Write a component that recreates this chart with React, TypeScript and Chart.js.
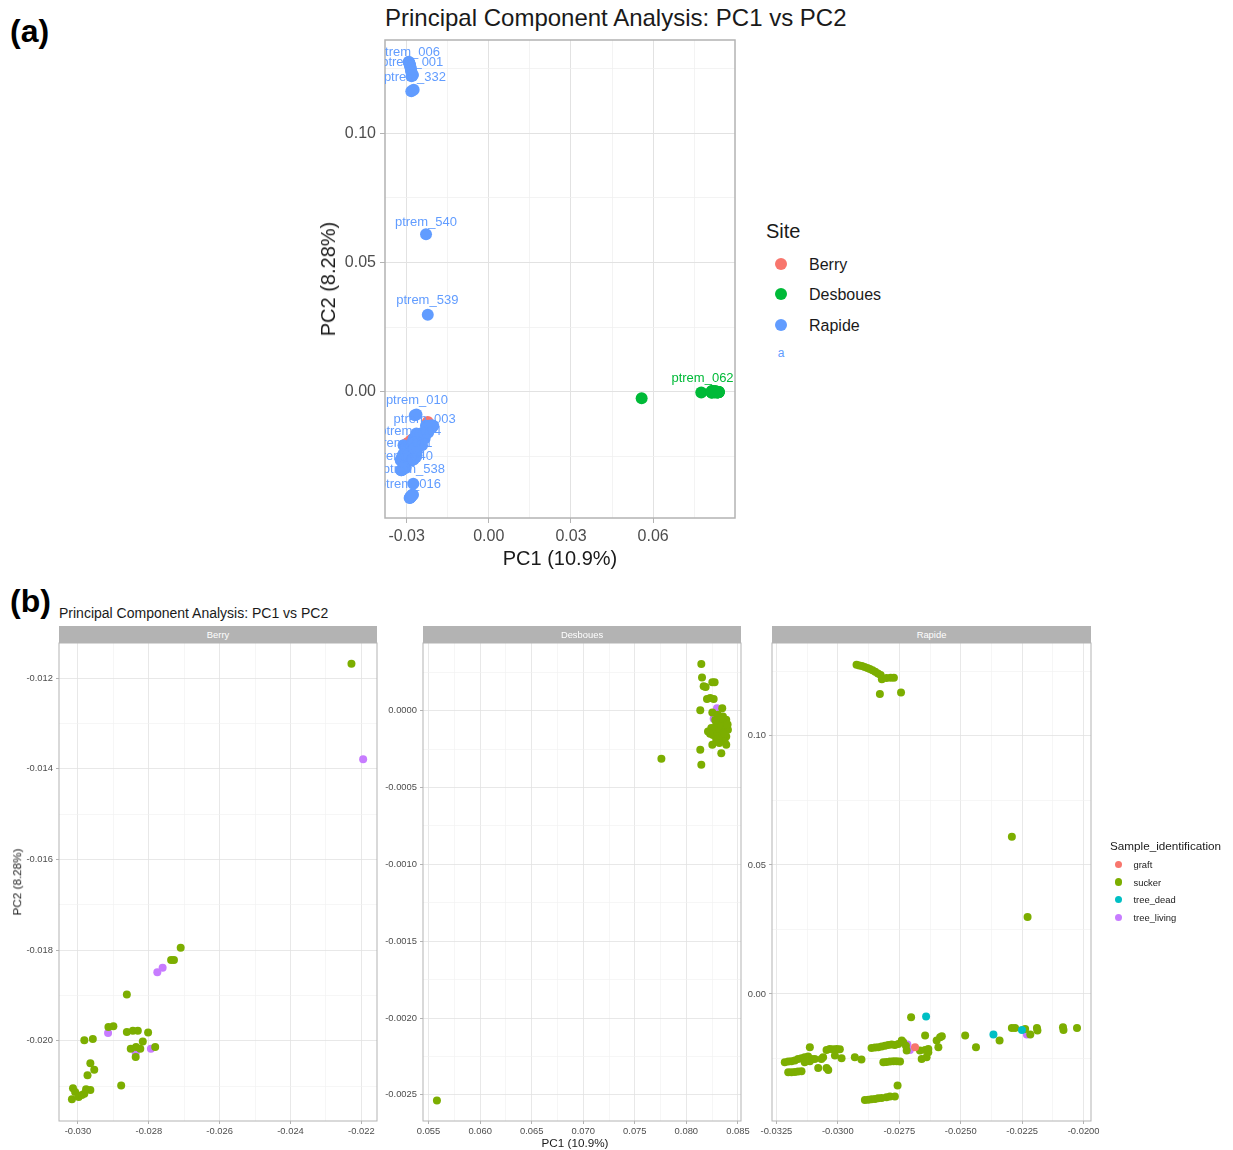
import React, { useEffect, useRef } from 'react';
import { Chart, registerables } from 'chart.js';

Chart.register(...registerables);

type Pt = [number, number];

const FONT = '"Liberation Sans", Arial, Helvetica, sans-serif';

// ---------------- categories ----------------
const SITES = ['Berry', 'Desboues', 'Rapide'];
const SITE_COLORS = ['#F8766D', '#00BA38', '#619CFF'];
const SAMPLE_TYPES = ['graft', 'sucker', 'tree_dead', 'tree_living'];
const SAMPLE_COLORS = ['#F8766D', '#7CAE00', '#00BFC4', '#C77CFF'];

// ---------------- series: [PC1, PC2] ----------------
const berrySucker: Pt[] = [
  [-0.02228, -0.01168], [-0.0271, -0.01795], [-0.02737, -0.01822], [-0.02729, -0.01822],
  [-0.02862, -0.01898], [-0.02914, -0.0197], [-0.029, -0.01968], [-0.02862, -0.01981],
  [-0.02845, -0.01978], [-0.02831, -0.01978], [-0.02802, -0.01982], [-0.02982, -0.01999],
  [-0.02958, -0.01996], [-0.02851, -0.02018], [-0.02836, -0.02014], [-0.02824, -0.02018],
  [-0.02817, -0.02002], [-0.02782, -0.02014], [-0.02837, -0.02036], [-0.02965, -0.0205],
  [-0.02954, -0.02064], [-0.02973, -0.02076], [-0.02878, -0.02099], [-0.03014, -0.02105],
  [-0.03008, -0.02113], [-0.03017, -0.02129], [-0.02998, -0.02124], [-0.02989, -0.0212],
  [-0.02977, -0.02107], [-0.02965, -0.02109], [-0.02982, -0.02117],
];
const berryTreeLiving: Pt[] = [
  [-0.02195, -0.01379], [-0.02776, -0.01849], [-0.02761, -0.01839], [-0.02915, -0.01983],
  [-0.02794, -0.02018], [-0.02837, -0.02027],
];

const desbouesSucker: Pt[] = [
  [0.05581, -0.002537], [0.07758, -0.000313], [0.08145, 0.000304], [0.08152, 0.000217],
  [0.08168, 0.000159], [0.08187, 0.000154], [0.08252, 0.000185], [0.08274, 0.000185],
  [0.082, 0.000076], [0.08232, 0.000083], [0.08265, 0.000076], [0.08135, 0.000004],
  [0.08348, 0.000017], [0.08252, -0.000011], [0.08306, -0.000026], [0.08355, -0.000037],
  [0.08387, -0.000059], [0.08323, -0.00007], [0.08371, -0.00008], [0.0829, -0.000091],
  [0.08339, -0.000102], [0.08387, -0.000113], [0.08242, -0.000113], [0.08274, -0.000124],
  [0.08316, -0.000135], [0.08361, -0.000141], [0.08403, -0.000124], [0.0821, -0.000135],
  [0.08258, -0.000157], [0.08306, -0.000167], [0.08348, -0.000172], [0.08387, -0.000167],
  [0.0829, -0.000189], [0.08371, -0.0002], [0.08387, -0.000222], [0.08252, -0.000222],
  [0.08339, -0.000276], [0.08135, -0.000254], [0.08145, -0.000352], [0.0833, -0.00005],
  [0.0837, -0.00015], [0.0828, -0.00006], [0.084, -0.00009], [0.0832, -0.00021],
  [0.0823, -0.00015],
];
const desbouesTreeLiving: Pt[] = [[0.08297, 0.000017], [0.08265, -0.000052]];

const rapideGraft: Pt[] = [[-0.02686, -0.02067]];
const rapideSucker: Pt[] = [
  [-0.02924, 0.1276], [-0.02913, 0.1273], [-0.02902, 0.1271], [-0.02891, 0.1267],
  [-0.0288, 0.1263], [-0.0287, 0.1259], [-0.02859, 0.1254], [-0.02848, 0.1249],
  [-0.02837, 0.1242], [-0.02826, 0.1236], [-0.02821, 0.122], [-0.02802, 0.1224],
  [-0.02785, 0.1225], [-0.02772, 0.1225], [-0.02829, 0.1162], [-0.02743, 0.1168],
  [-0.02292, 0.0609], [-0.02228, 0.0298],
  [-0.03216, -0.02649], [-0.03202, -0.02623], [-0.03189, -0.0261], [-0.03175, -0.02584],
  [-0.03162, -0.02519], [-0.03148, -0.02494], [-0.03135, -0.02455], [-0.03121, -0.02429],
  [-0.03107, -0.02519], [-0.03094, -0.02519], [-0.03135, -0.02649], [-0.03114, -0.0261],
  [-0.03202, -0.03036], [-0.03189, -0.03036], [-0.03175, -0.03023], [-0.03162, -0.0301],
  [-0.03148, -0.02997], [-0.03114, -0.02067], [-0.0308, -0.02868], [-0.03039, -0.02946],
  [-0.03046, -0.02868], [-0.03067, -0.02519], [-0.0306, -0.02455], [-0.03046, -0.02171],
  [-0.03033, -0.02132], [-0.03019, -0.02145], [-0.03005, -0.02132], [-0.02992, -0.02145],
  [-0.03012, -0.0239], [-0.02985, -0.02494], [-0.02931, -0.02455], [-0.02904, -0.02545],
  [-0.02863, -0.02093], [-0.02849, -0.0208], [-0.02836, -0.02067], [-0.02822, -0.02041],
  [-0.02808, -0.02003], [-0.02795, -0.01977], [-0.02781, -0.01964], [-0.02768, -0.01977],
  [-0.02754, -0.01938], [-0.0274, -0.01809], [-0.02734, -0.01873],
  [-0.02815, -0.02649], [-0.02802, -0.02636], [-0.02788, -0.02623], [-0.02774, -0.0261],
  [-0.02761, -0.0261], [-0.02747, -0.02623], [-0.0272, -0.02196], [-0.02723, -0.02003],
  [-0.02702, -0.00904], [-0.02645, -0.01615], [-0.02645, -0.02171], [-0.02666, -0.02196],
  [-0.02632, -0.02132], [-0.02659, -0.02519], [-0.02639, -0.02455], [-0.02632, -0.02261],
  [-0.02598, -0.01809], [-0.02584, -0.0168], [-0.02577, -0.01641], [-0.02591, -0.02067],
  [-0.02482, -0.01615], [-0.02438, -0.02067],
  [-0.0289, -0.04109], [-0.02876, -0.04096], [-0.02863, -0.04083], [-0.02849, -0.0407],
  [-0.02836, -0.04044], [-0.02822, -0.04031], [-0.02802, -0.04005], [-0.02788, -0.03979],
  [-0.02768, -0.03979], [-0.02757, -0.03553],
  [-0.02342, -0.01809], [-0.02292, -0.01318], [-0.02279, -0.01318], [-0.02238, -0.01357],
  [-0.02217, -0.01576], [-0.0219, -0.01318], [-0.02188, -0.01421], [-0.02084, -0.01292],
  [-0.02082, -0.01395], [-0.02027, -0.01318],
];
const rapideTreeDead: Pt[] = [[-0.02641, -0.00879], [-0.02367, -0.01576], [-0.02251, -0.01395]];
const rapideTreeLiving: Pt[] = [[-0.02717, -0.01964], [-0.02707, -0.02171], [-0.02231, -0.01576]];

// per site (SITES order) -> per sample type (SAMPLE_TYPES order)
const BY_SITE: Pt[][][] = [
  [[], berrySucker, [], berryTreeLiving],
  [[], desbouesSucker, [], desbouesTreeLiving],
  [rapideGraft, rapideSucker, rapideTreeDead, rapideTreeLiving],
];

// ---------------- repelled point labels (panel a) ----------------
const LABEL_TEXT = [
  'ptrem_006', 'ptrem_001', 'ptrem_332', 'ptrem_540', 'ptrem_539', 'ptrem_010', 'ptrem_003',
  'ptrem_004', 'ptrem_011', 'ptrem_040', 'ptrem_538', 'ptrem_016', 'ptrem_062',
];
const LABEL_PC1 = [
  -0.02916, -0.02795, -0.02696, -0.02294, -0.02246, -0.02623, -0.02341,
  -0.02868, -0.03172, -0.03172, -0.02733, -0.02879, 0.07804,
];
const LABEL_PC2 = [
  0.13104, 0.12718, 0.12139, 0.06564, 0.03541, -0.00347, -0.01066,
  -0.01544, -0.01992, -0.02483, -0.02996, -0.03575, 0.00517,
];
const LABEL_SITE = [2, 2, 2, 2, 2, 2, 2, 2, 2, 2, 2, 2, 1];

// ---------------- axes: tick values and labels ----------------
const A_X_TICKS = [-0.03, 0, 0.03, 0.06];
const A_X_LABELS = ['-0.03', '0.00', '0.03', '0.06'];
const A_Y_TICKS = [0, 0.05, 0.1];
const A_Y_LABELS = ['0.00', '0.05', '0.10'];

const BERRY_X_TICKS = [-0.03, -0.028, -0.026, -0.024, -0.022];
const BERRY_X_LABELS = ['-0.030', '-0.028', '-0.026', '-0.024', '-0.022'];
const BERRY_Y_TICKS = [-0.02, -0.018, -0.016, -0.014, -0.012];
const BERRY_Y_LABELS = ['-0.020', '-0.018', '-0.016', '-0.014', '-0.012'];

const DESB_X_TICKS = [0.055, 0.06, 0.065, 0.07, 0.075, 0.08, 0.085];
const DESB_X_LABELS = ['0.055', '0.060', '0.065', '0.070', '0.075', '0.080', '0.085'];
const DESB_Y_TICKS = [-0.0025, -0.002, -0.0015, -0.001, -0.0005, 0];
const DESB_Y_LABELS = ['-0.0025', '-0.0020', '-0.0015', '-0.0010', '-0.0005', '0.0000'];

const RAP_X_TICKS = [-0.0325, -0.03, -0.0275, -0.025, -0.0225, -0.02];
const RAP_X_LABELS = ['-0.0325', '-0.0300', '-0.0275', '-0.0250', '-0.0225', '-0.0200'];
const RAP_Y_TICKS = [0, 0.05, 0.1];
const RAP_Y_LABELS = ['0.00', '0.05', '0.10'];

// axis limits
const A_X_RANGE: Pt = [-0.0379, 0.0899];
const A_Y_RANGE: Pt = [-0.0488, 0.136];
const BERRY_X_RANGE: Pt = [-0.030535, -0.021559];
const BERRY_Y_RANGE: Pt = [-0.021772, -0.011224];
const DESB_X_RANGE: Pt = [0.05446, 0.0853];
const DESB_Y_RANGE: Pt = [-0.00267, 0.000441];
const RAP_X_RANGE: Pt = [-0.03268, -0.0197];
const RAP_Y_RANGE: Pt = [-0.04924, 0.136];

// ---------------------------------------------------------------
const PAD = 24;

interface AxisSpec { range: Pt; ticks: number[]; labels: string[] }
interface DS { points: Pt[]; color: string; order: number }
interface PanelProps {
  left: number; top: number; width: number; height: number;
  yw: number; xh: number; font: number; tickLen: number; padX: number; padY: number;
  radius: number; x: AxisSpec; y: AxisSpec; datasets: DS[];
  majorColor: string; minorColor: string; majorW: number; minorW: number; borderW: number;
  labels?: boolean; labelFont?: number;
}

function withMinors(majors: number[], min: number, max: number): number[] {
  const step = majors[1] - majors[0];
  const out: number[] = [];
  for (let k = -2; k <= 2 * (majors.length - 1) + 2; k++) {
    const v = majors[0] + (k * step) / 2;
    if (v >= min - 1e-12 && v <= max + 1e-12) out.push(v);
  }
  return out;
}

function scaleOptions(axis: AxisSpec, dir: 'x' | 'y', p: PanelProps) {
  const all = withMinors(axis.ticks, axis.range[0], axis.range[1]);
  const step = Math.abs(axis.ticks[1] - axis.ticks[0]);
  const idx = (v: number) => axis.ticks.findIndex((m) => Math.abs(m - v) < step * 1e-3);
  const isMajor = (v: any) => typeof v === 'number' && idx(v) >= 0;
  return {
    type: 'linear',
    position: dir === 'x' ? 'bottom' : 'left',
    min: axis.range[0],
    max: axis.range[1],
    bounds: 'data',
    afterBuildTicks: (s: any) => { s.ticks = all.map((v) => ({ value: v })); },
    afterFit: (s: any) => { if (dir === 'x') s.height = p.xh; else s.width = p.yw; },
    ticks: {
      autoSkip: false, maxRotation: 0, minRotation: 0,
      padding: dir === 'x' ? p.padX : p.padY,
      color: '#4D4D4D',
      font: { family: FONT, size: p.font },
      callback: (v: any) => { const i = idx(Number(v)); return i >= 0 ? axis.labels[i] : ''; },
    },
    grid: {
      color: (c: any) => (isMajor(c.tick?.value) ? p.majorColor : p.minorColor),
      lineWidth: (c: any) => (isMajor(c.tick?.value) ? p.majorW : p.minorW),
      drawTicks: true,
      tickLength: p.tickLen,
      tickColor: (c: any) => (isMajor(c.tick?.value) ? '#B3B3B3' : 'rgba(0,0,0,0)'),
      tickWidth: 1,
    },
    border: { display: false },
  };
}

function ScatterPanel(p: PanelProps) {
  const ref = useRef<HTMLCanvasElement | null>(null);
  const W = PAD + p.yw + p.width + PAD;
  const H = PAD + p.height + p.xh + PAD;
  useEffect(() => {
    const canvas = ref.current;
    if (!canvas) return;
    const borderPlugin = {
      id: 'panelBorder',
      afterDatasetsDraw(chart: any) {
        const { ctx, chartArea: a } = chart;
        ctx.save();
        ctx.strokeStyle = '#B3B3B3';
        ctx.lineWidth = p.borderW;
        ctx.strokeRect(a.left, a.top, a.right - a.left, a.bottom - a.top);
        ctx.restore();
      },
    };
    const labelPlugin = {
      id: 'pointLabels',
      afterDatasetsDraw(chart: any) {
        const { ctx, chartArea: a, scales } = chart;
        ctx.save();
        ctx.beginPath();
        ctx.rect(a.left, a.top, a.right - a.left, a.bottom - a.top);
        ctx.clip();
        ctx.font = `${p.labelFont || 13}px ${FONT}`;
        ctx.textAlign = 'center';
        ctx.textBaseline = 'middle';
        LABEL_TEXT.forEach((t, i) => {
          ctx.fillStyle = SITE_COLORS[LABEL_SITE[i]];
          ctx.fillText(t, scales.x.getPixelForValue(LABEL_PC1[i]), scales.y.getPixelForValue(LABEL_PC2[i]));
        });
        ctx.restore();
      },
    };
    const chart = new Chart(canvas, {
      type: 'scatter',
      data: {
        datasets: p.datasets.map((d) => ({
          data: d.points.map(([x, y]) => ({ x, y })),
          pointBackgroundColor: d.color,
          pointBorderColor: d.color,
          pointBorderWidth: 0,
          pointRadius: p.radius,
          pointHoverRadius: p.radius,
          order: d.order,
        })),
      },
      options: {
        responsive: false,
        animation: false,
        devicePixelRatio: 1,
        events: [],
        layout: { padding: PAD },
        plugins: { legend: { display: false }, tooltip: { enabled: false }, title: { display: false } },
        scales: { x: scaleOptions(p.x, 'x', p), y: scaleOptions(p.y, 'y', p) } as any,
      },
      plugins: p.labels ? [borderPlugin, labelPlugin] : [borderPlugin],
    } as any);
    return () => chart.destroy();
  }, []);
  return (
    <canvas
      ref={ref}
      width={W}
      height={H}
      style={{ position: 'absolute', left: p.left - p.yw - PAD, top: p.top - PAD, width: W, height: H }}
    />
  );
}

function Txt(props: {
  x: number; y: number; size: number; color?: string; weight?: number;
  align?: 'left' | 'center' | 'right'; rotate?: number; children: React.ReactNode;
}) {
  const { x, y, size, color = '#000', weight = 400, align = 'center', rotate = 0 } = props;
  const tx = align === 'center' ? '-50%' : align === 'right' ? '-100%' : '0';
  return (
    <div
      style={{
        position: 'absolute', left: x, top: y,
        transform: `translate(${tx},-50%)${rotate ? ` rotate(${rotate}deg)` : ''}`,
        fontFamily: FONT, fontSize: size, fontWeight: weight, color,
        lineHeight: 1, whiteSpace: 'nowrap',
      }}
    >
      {props.children}
    </div>
  );
}

function Dot({ x, y, r, color }: { x: number; y: number; r: number; color: string }) {
  return (
    <div style={{ position: 'absolute', left: x - r, top: y - r, width: 2 * r, height: 2 * r, borderRadius: '50%', background: color }} />
  );
}

const FACET_TOP = 643;
const FACET_H = 478;
const FACETS = [
  { name: SITES[0], left: 59, width: 318, x: { range: BERRY_X_RANGE, ticks: BERRY_X_TICKS, labels: BERRY_X_LABELS }, y: { range: BERRY_Y_RANGE, ticks: BERRY_Y_TICKS, labels: BERRY_Y_LABELS } },
  { name: SITES[1], left: 423, width: 318, x: { range: DESB_X_RANGE, ticks: DESB_X_TICKS, labels: DESB_X_LABELS }, y: { range: DESB_Y_RANGE, ticks: DESB_Y_TICKS, labels: DESB_Y_LABELS } },
  { name: SITES[2], left: 772, width: 319, x: { range: RAP_X_RANGE, ticks: RAP_X_TICKS, labels: RAP_X_LABELS }, y: { range: RAP_Y_RANGE, ticks: RAP_Y_TICKS, labels: RAP_Y_LABELS } },
];
// drawing priority of sample types (lower = on top)
const SAMPLE_ORDER = [0, 2, 1, 3];

export default function App() {
  const siteDatasets: DS[] = SITES.map((_, s) => ({
    points: BY_SITE[s].reduce((acc: Pt[], arr) => acc.concat(arr), []),
    color: SITE_COLORS[s],
    order: 3 - s,
  }));

  const common = { majorColor: '#E2E2E2', minorColor: '#F0F0F0' };

  return (
    <div style={{ position: 'absolute', left: 0, top: 0, width: 1233, height: 1150, background: '#fff', overflow: 'hidden' }}>
      {/* ---------- (a) ---------- */}
      <Txt x={10} y={31} size={32} weight={700} align="left">(a)</Txt>
      <Txt x={385} y={18} size={24} align="left" color="#1a1a1a">Principal Component Analysis: PC1 vs PC2</Txt>
      <ScatterPanel
        left={385} top={40} width={350} height={478}
        yw={60} xh={42} font={16} tickLen={5} padX={4} padY={4}
        radius={6}
        x={{ range: A_X_RANGE, ticks: A_X_TICKS, labels: A_X_LABELS }}
        y={{ range: A_Y_RANGE, ticks: A_Y_TICKS, labels: A_Y_LABELS }}
        datasets={siteDatasets}
        {...common} majorW={1} minorW={0.8} borderW={1.5}
        labels labelFont={13}
      />
      <Txt x={560} y={558} size={20} color="#1a1a1a">PC1 (10.9%)</Txt>
      <Txt x={328} y={279} size={20} rotate={-90} color="#1a1a1a">PC2 (8.28%)</Txt>
      <Txt x={766} y={231} size={20} align="left" color="#1a1a1a">Site</Txt>
      {SITES.map((s, i) => (
        <React.Fragment key={s}>
          <Dot x={781} y={263.5 + i * 30.7} r={6} color={SITE_COLORS[i]} />
          <Txt x={809} y={264.5 + i * 30.7} size={16} align="left" color="#1a1a1a">{s}</Txt>
        </React.Fragment>
      ))}
      <Txt x={781} y={353} size={12} color={SITE_COLORS[2]}>a</Txt>

      {/* ---------- (b) ---------- */}
      <Txt x={10} y={601} size={32} weight={700} align="left">(b)</Txt>
      <Txt x={59} y={613} size={14} align="left" color="#1a1a1a">Principal Component Analysis: PC1 vs PC2</Txt>
      {FACETS.map((f, s) => (
        <React.Fragment key={f.name}>
          <div style={{ position: 'absolute', left: f.left, top: 626, width: f.width, height: FACET_TOP - 626, background: '#B3B3B3' }} />
          <Txt x={f.left + f.width / 2} y={634.5} size={9.4} color="#ffffff">{f.name}</Txt>
          <ScatterPanel
            left={f.left} top={FACET_TOP} width={f.width} height={FACET_H}
            yw={50} xh={24} font={9.4} tickLen={3} padX={2} padY={3}
            radius={4}
            x={f.x} y={f.y}
            datasets={SAMPLE_TYPES.map((_, t) => ({ points: BY_SITE[s][t], color: SAMPLE_COLORS[t], order: SAMPLE_ORDER[t] }))}
            {...common} majorW={0.8} minorW={0.6} borderW={1}
          />
        </React.Fragment>
      ))}
      <Txt x={575} y={1143} size={11.7} color="#1a1a1a">PC1 (10.9%)</Txt>
      <Txt x={17} y={882} size={11.7} rotate={-90} color="#1a1a1a">PC2 (8.28%)</Txt>
      <Txt x={1110} y={846} size={11.7} align="left" color="#1a1a1a">Sample_identification</Txt>
      {SAMPLE_TYPES.map((t, i) => (
        <React.Fragment key={t}>
          <Dot x={1118.5} y={864.5 + i * 17.6} r={3.8} color={SAMPLE_COLORS[i]} />
          <Txt x={1133.5} y={865 + i * 17.6} size={9.4} align="left" color="#1a1a1a">{t}</Txt>
        </React.Fragment>
      ))}
    </div>
  );
}
